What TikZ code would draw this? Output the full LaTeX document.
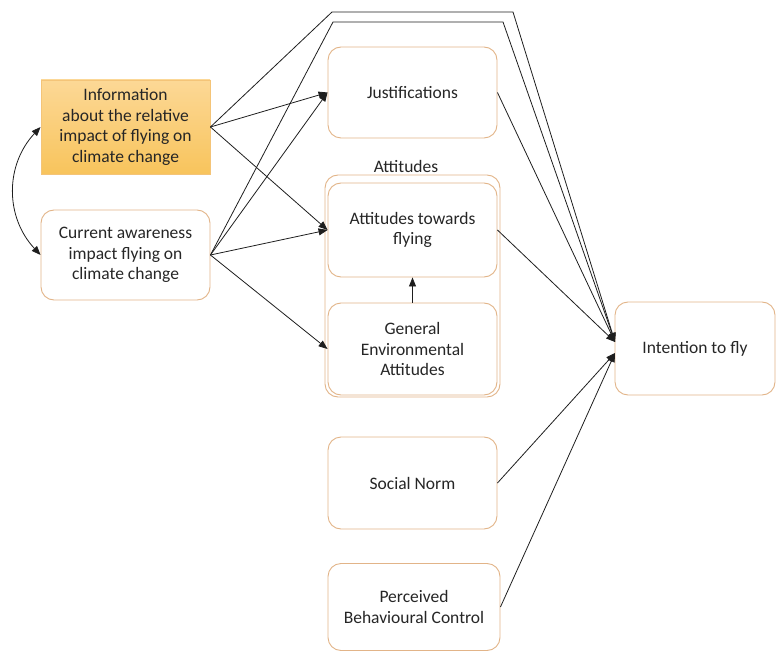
\documentclass[tikz,border=0pt]{standalone}
\usepackage{fontspec}
\setmainfont{Carlito}
\usetikzlibrary{arrows.meta}
\definecolor{boxline}{RGB}{226,180,136}
\definecolor{infoline}{RGB}{244,196,120}
\definecolor{infotop}{RGB}{252,216,150}
\definecolor{infobot}{RGB}{248,196,92}
\definecolor{txt}{RGB}{38,38,38}
\definecolor{conn}{RGB}{30,30,30}
\begin{document}
\begin{tikzpicture}[x=1pt,y=-1pt,
  every node/.style={font=\fontsize{17.5}{20.5}\selectfont, text=txt, align=center},
  rbox/.style={draw=boxline, line width=0.9pt, rounded corners=13pt, fill=white},
  infobox/.style={draw=infoline, line width=0.9pt, top color=infotop, bottom color=infobot},
  link/.style={draw=conn, line width=0.8pt, -{Triangle[length=9pt,width=7pt]}},
  plain/.style={draw=conn, line width=0.8pt}]
\useasboundingbox (0,0) rectangle (776,652);

% attitude group frame and its title
\node[rbox, minimum width=175pt, minimum height=222pt] (attgrp) at (412.5,286) {};
\node (attlbl) at (406,166) {Attitudes};

% boxes
\node[infobox, minimum width=169pt, minimum height=94pt] (info) at (125.5,127)
  {Information\\about the relative\\impact of flying on\\climate change};
\node[rbox, minimum width=169pt, minimum height=90pt] (aware) at (125.5,255)
  {Current awareness\\impact flying on\\climate change};
\node[rbox, minimum width=169pt, minimum height=91pt] (just) at (412.5,92.5) {Justifications};
\node[rbox, minimum width=169pt, minimum height=94pt] (atf) at (412.5,230)
  {Attitudes towards\\flying};
\node[rbox, minimum width=169pt, minimum height=92pt] (gea) at (412.5,349)
  {General\\Environmental\\Attitudes};
\node[rbox, minimum width=169pt, minimum height=92pt] (sn) at (412.5,483) {Social Norm};
\node[rbox, minimum width=172pt, minimum height=87pt] (pbc) at (414,607)
  {Perceived\\Behavioural Control};
\node[rbox, minimum width=160pt, minimum height=93pt] (intent) at (695,348.5) {Intention to fly};

% arrow tips at the intention box
\coordinate (inA) at (615,342);
\coordinate (inB) at (615,353);
% bends of the two long lines over the top
\coordinate (o1) at (332,12);
\coordinate (o2) at (513,12);
\coordinate (i1) at (333,22);
\coordinate (i2) at (503,22);

% correlation between the two information boxes
\draw[plain, {Triangle[length=9pt,width=7pt]}-{Triangle[length=9pt,width=7pt]}]
  (info.west) .. controls (5,165) and (5,217) .. (aware.west);

% from the information boxes
\draw[link] (info.east) -- (just.west);
\draw[link] (info.east) -- (atf.west);
\draw[link] (info.east) -- (o1) -- (o2) -- (inA);
\draw[link] (aware.east) -- (just.west);
\draw[link] (aware.east) -- (atf.west);
\draw[link] (aware.east) -- (gea.west);
\draw[link] (aware.east) -- (i1) -- (i2) -- (inA);

% within the attitudes
\draw[link] (gea.north) -- (atf.south);

% into the intention
\draw[link] (just.east) -- (inA);
\draw[link] (atf.east) -- (inA);
\draw[link] (sn.east) -- (inB);
\draw[link] (pbc.east) -- (inB);
\end{tikzpicture}
\end{document}
